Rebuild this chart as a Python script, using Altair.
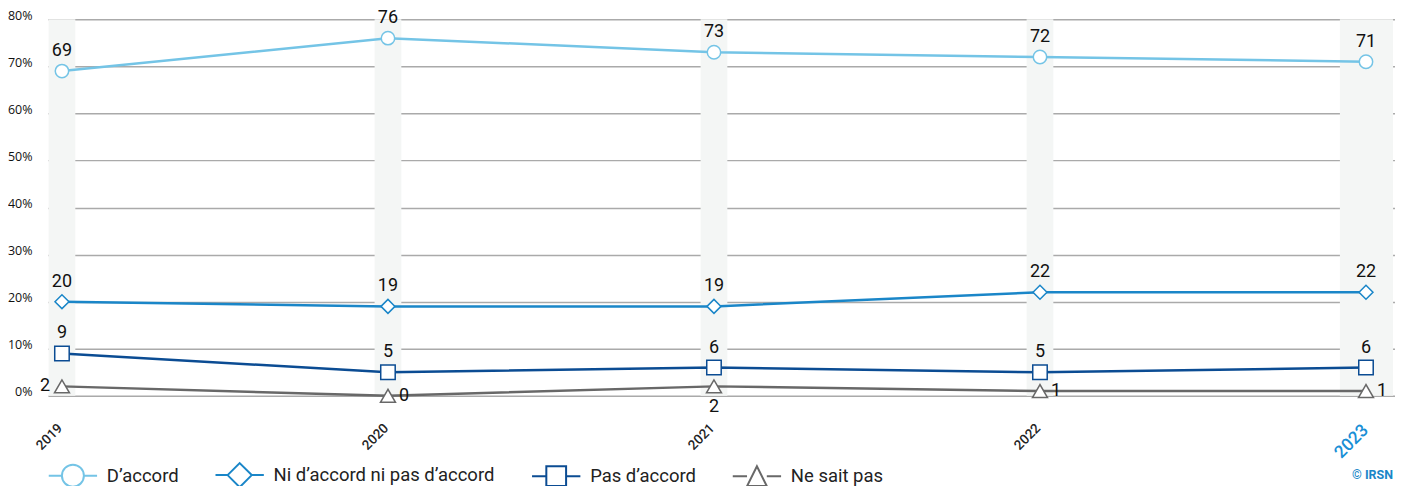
import altair as alt
import pandas as pd

years = [2019, 2020, 2021, 2022, 2023]
series = ["D’accord", "Ni d’accord ni pas d’accord", "Pas d’accord", "Ne sait pas"]
values = {
    "D’accord": [69, 76, 73, 72, 71],
    "Ni d’accord ni pas d’accord": [20, 19, 19, 22, 22],
    "Pas d’accord": [9, 5, 6, 5, 6],
    "Ne sait pas": [2, 0, 2, 1, 1],
}
label_pos = {
    "D’accord": ["above"] * 5,
    "Ni d’accord ni pas d’accord": ["above"] * 5,
    "Pas d’accord": ["above"] * 5,
    "Ne sait pas": ["left", "right", "below", "right", "right"],
}
colors = ["#74c4e6", "#1a86c8", "#0b4c93", "#686868"]
y_ticks = [0, 10, 20, 30, 40, 50, 60, 70, 80]

rows = []
for s in series:
    for i, y in enumerate(years):
        rows.append({"year": y, "series": s, "value": values[s][i], "pos": label_pos[s][i]})
df = pd.DataFrame(rows)
years_df = pd.DataFrame({"year": years})

XMIN, XMAX = 2018.957, 2023.089
W, H = 1349, 377

xscale = alt.Scale(domain=[XMIN, XMAX], nice=False, zero=False)
yscale = alt.Scale(domain=[0, 80], nice=False)

x_axis = alt.Axis(
    values=years, format="d", labelAngle=-45, grid=False, domain=False, ticks=False,
    labelPadding=25, labelOffset=-7, labelFont="Roboto", labelFontWeight=500,
    labelColor={"condition": {"test": "datum.value == 2023", "value": "#1a8fd6"}, "value": "#222222"},
    labelFontSize={"condition": {"test": "datum.value == 2023", "value": 17.5}, "value": 13.5},
    title=None,
)
y_axis = alt.Axis(
    values=y_ticks, labelExpr="datum.value + '%'", domain=False, ticks=False,
    gridColor="#aaaaaa", gridWidth=1.5, labelFont="Open Sans", labelFontSize=12.5,
    labelFontWeight=500, labelColor="#111111", labelPadding=16, labelBaseline="alphabetic", title=None,
)

bands = alt.Chart(years_df).transform_calculate(
    x1="datum.year == 2023 ? datum.year - 0.08 : datum.year - 0.041",
    x2=f"datum.year == 2023 ? {XMAX - 0.006} : datum.year + 0.041",
    y1="0", y2="80",
).mark_rect(color="#f4f6f5").encode(
    x=alt.X("x1:Q", scale=xscale, axis=x_axis),
    x2="x2:Q",
    y=alt.Y("y1:Q", scale=yscale, axis=y_axis),
    y2="y2:Q",
)

cscale = alt.Scale(domain=series, range=colors)

lines = alt.Chart(df).mark_line(strokeWidth=2.5).encode(
    x=alt.X("year:Q", scale=xscale),
    y=alt.Y("value:Q", scale=yscale),
    color=alt.Color("series:N", scale=cscale, legend=None),
    detail="series:N",
)

points = alt.Chart(df).mark_point(filled=False, fill="white", fillOpacity=1, strokeWidth=1.5, opacity=1).encode(
    x=alt.X("year:Q", scale=xscale),
    y=alt.Y("value:Q", scale=yscale),
    stroke=alt.Stroke("series:N", scale=cscale, legend=None),
    shape=alt.Shape("series:N", scale=alt.Scale(domain=series, range=["circle", "diamond", "square", "triangle-up"]), legend=None),
    size=alt.Size("series:N", scale=alt.Scale(domain=series, range=[180, 225, 205, 185]), legend=None),
)

leg_paths = [
    "M-2.2,0L-1,0M1,0L2.2,0M-1,0A1,1 0 1,1 1,0A1,1 0 1,1 -1,0Z",
    "M-2.2,0L-1.1,0M1.1,0L2.2,0M-1.1,0L0,-1.1L1.1,0L0,1.1Z",
    "M-2.2,0L-0.9,0M0.9,0L2.2,0M-0.9,-0.9L0.9,-0.9L0.9,0.9L-0.9,0.9Z",
    "M-2.2,0L-0.9,0M0.9,0L2.2,0M-0.9,0.9L0,-0.9L0.9,0.9Z",
]

leg = dict(
    title=None, orient="none", direction="horizontal", legendX=13, legendY=444,
    symbolSize=484, symbolFillColor="white", symbolStrokeWidth=2, symbolOpacity=1,
    labelFont="Roboto", labelFontSize=18.5, labelColor="#222222", labelOffset=22,
    columnPadding=32, padding=0, labelLimit=400,
)

legend_layer = alt.Chart(df).transform_filter("datum.value < -1000").mark_point(
    filled=False, fill="white", size=484, strokeWidth=2
).encode(
    x=alt.X("year:Q", scale=xscale),
    y=alt.Y("value:Q", scale=yscale),
    stroke=alt.Stroke("series:N", scale=alt.Scale(domain=series, range=colors), legend=alt.Legend(**leg)),
    shape=alt.Shape("series:N", scale=alt.Scale(domain=series, range=leg_paths), legend=alt.Legend(**leg)),
)

def text_layer(pos, **kw):
    return alt.Chart(df).transform_filter(f"datum.pos == '{pos}'").mark_text(
        font="Roboto", fontSize=18, fontWeight="normal", color="#111111", **kw
    ).encode(
        x=alt.X("year:Q", scale=xscale),
        y=alt.Y("value:Q", scale=yscale),
        text="value:Q",
    )

t_above = text_layer("above", dy=-20, align="center", baseline="middle")
t_left = text_layer("left", dx=-17, align="center", baseline="middle")
t_right = text_layer("right", dx=16, align="center", baseline="middle")
t_below = text_layer("below", dy=21, align="center", baseline="middle")

credit = alt.Chart(years_df).transform_filter("datum.year == 2023").mark_text(
    text="© IRSN", font="Roboto", fontSize=12.5, fontWeight="bold", color="#1a86c8",
    align="right", baseline="middle",
).encode(x=alt.value(W - 2), y=alt.value(H + 79))

chart = alt.layer(
    bands, lines, points, legend_layer, t_above, t_left, t_right, t_below, credit
).resolve_scale(shape="independent", stroke="independent", size="independent").properties(
    width=W, height=H,
    autosize=alt.AutoSizeParams(type="none"),
    padding={"left": 40, "top": 11, "right": 0, "bottom": 90},
).configure_view(stroke=None).configure_axis(labelOverlap=False)

chart.save("out.html", embed_options={"renderer": "svg", "actions": False})
